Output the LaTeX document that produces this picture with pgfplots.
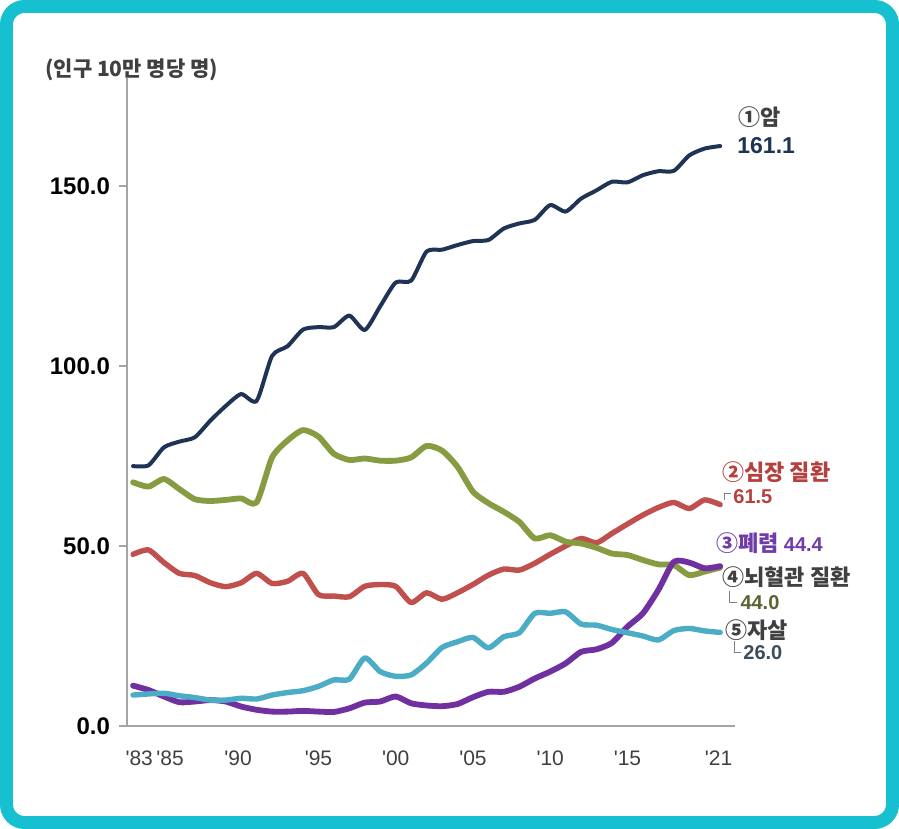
\documentclass[border=0pt]{standalone}
\usepackage{fontspec}
\usepackage{pgfplots}
\pgfplotsset{compat=1.18}
\setmainfont{Liberation Sans}
\newfontfamily\kr{Noto Sans CJK KR}
\definecolor{bordercyan}{RGB}{22,192,208}
\definecolor{axisgray}{RGB}{165,165,165}
\definecolor{cnavy}{RGB}{31,52,85}
\definecolor{cred}{RGB}{192,80,77}
\definecolor{cgreen}{RGB}{135,155,65}
\definecolor{cpurple}{RGB}{112,48,160}
\definecolor{ccyan}{RGB}{75,172,198}
\definecolor{tred}{RGB}{180,65,62}
\definecolor{tpurple}{RGB}{112,60,170}
\definecolor{tolive}{RGB}{90,100,48}
\definecolor{tslate}{RGB}{60,78,92}
\definecolor{tgray}{RGB}{64,64,64}
\begin{document}
\begin{tikzpicture}
\useasboundingbox (-63.5pt,-51.5pt) rectangle (386pt,363pt);
\fill[white] (-63.5pt,-51.5pt) rectangle (386pt,363pt);
\draw[line width=6.5pt, draw=bordercyan, rounded corners=9pt] (-60.25pt,-48.25pt) rectangle (382.75pt,359.75pt);
\begin{axis}[
  at={(0,0)}, anchor=south west, scale only axis,
  width=304pt, height=324pt,
  xmin=1982.61, xmax=2021.96, ymin=0, ymax=180,
  axis lines*=left,
  axis line style={draw=axisgray, line width=0.6pt},
  clip=false,
  ytick={0,50,100,150}, yticklabels={0.0,50.0,100.0,150.0},
  tick align=outside, major tick length=4pt,
  ytick style={draw=axisgray, line width=0.6pt},
  xtick={1983.4,1985.4,1989.8,1995,2000,2005,2010,2015,2020.9},
  xticklabels={\textquotesingle83,\textquotesingle85,\textquotesingle90,\textquotesingle95,\textquotesingle00,\textquotesingle05,\textquotesingle10,\textquotesingle15,\textquotesingle21},
  xtick style={draw=none},
  yticklabel style={font=\fontsize{12}{14}\selectfont\bfseries, text=black, xshift=-1pt},
  xticklabel style={font=\fontsize{10.5}{12}\selectfont, text=tgray, yshift=-5pt},
]
\addplot[cred, line width=2.7pt, smooth, tension=0.4, line join=round, line cap=round] coordinates {
(1983,47.7)(1984,48.9)(1985,45.4)(1986,42.4)(1987,41.8)(1988,39.8)(1989,38.7)(1990,39.8)(1991,42.4)(1992,39.6)
(1993,40.2)(1994,42.4)(1995,36.5)(1996,36.1)(1997,35.9)(1998,38.8)(1999,39.3)(2000,38.8)(2001,34.3)(2002,37.0)
(2003,35.2)(2004,37.0)(2005,39.3)(2006,41.9)(2007,43.6)(2008,43.3)(2009,45.2)(2010,47.7)(2011,50.0)(2012,52.1)
(2013,50.9)(2014,53.5)(2015,56.1)(2016,58.6)(2017,60.7)(2018,62.1)(2019,60.4)(2020,62.8)(2021,61.5)};
\addplot[cgreen, line width=2.9pt, smooth, tension=0.4, line join=round, line cap=round] coordinates {
(1983,67.7)(1984,66.5)(1985,68.6)(1986,65.8)(1987,63.0)(1988,62.5)(1989,62.8)(1990,63.2)(1991,62.1)(1992,74.6)
(1993,79.3)(1994,82.2)(1995,80.4)(1996,75.6)(1997,73.9)(1998,74.3)(1999,73.7)(2000,73.7)(2001,74.6)(2002,77.8)
(2003,76.5)(2004,72.0)(2005,65.1)(2006,61.9)(2007,59.5)(2008,56.7)(2009,52.1)(2010,53.0)(2011,51.2)(2012,50.7)
(2013,49.5)(2014,47.9)(2015,47.5)(2016,46.1)(2017,44.9)(2018,44.7)(2019,41.9)(2020,42.9)(2021,44.0)};
\addplot[cpurple, line width=2.9pt, smooth, tension=0.4, line join=round, line cap=round] coordinates {
(1983,11.2)(1984,10.0)(1985,8.2)(1986,6.6)(1987,6.8)(1988,7.2)(1989,6.8)(1990,5.4)(1991,4.5)(1992,4.0)
(1993,4.0)(1994,4.2)(1995,4.0)(1996,3.9)(1997,4.9)(1998,6.5)(1999,6.8)(2000,8.2)(2001,6.3)(2002,5.7)
(2003,5.5)(2004,6.1)(2005,8.0)(2006,9.5)(2007,9.5)(2008,10.9)(2009,13.2)(2010,15.1)(2011,17.4)(2012,20.6)
(2013,21.3)(2014,23.1)(2015,27.6)(2016,31.3)(2017,37.8)(2018,45.6)(2019,45.4)(2020,43.8)(2021,44.4)};
\addplot[ccyan, line width=2.7pt, smooth, tension=0.4, line join=round, line cap=round] coordinates {
(1983,8.6)(1984,8.9)(1985,9.1)(1986,8.4)(1987,7.9)(1988,7.2)(1989,7.2)(1990,7.7)(1991,7.5)(1992,8.6)
(1993,9.3)(1994,9.8)(1995,11.0)(1996,12.8)(1997,13.0)(1998,18.9)(1999,15.1)(2000,13.8)(2001,14.2)(2002,17.5)
(2003,21.8)(2004,23.4)(2005,24.6)(2006,21.7)(2007,24.8)(2008,25.9)(2009,31.3)(2010,31.3)(2011,31.7)(2012,28.3)
(2013,28.0)(2014,26.8)(2015,25.9)(2016,25.0)(2017,23.9)(2018,26.5)(2019,27.1)(2020,26.4)(2021,26.0)};
\addplot[cnavy, line width=2pt, smooth, tension=0.4, line join=round, line cap=round] coordinates {
(1983,72.2)(1984,72.4)(1985,77.4)(1986,79.0)(1987,80.2)(1988,84.8)(1989,88.9)(1990,92.2)(1991,90.3)(1992,102.8)
(1993,105.5)(1994,110.1)(1995,110.8)(1996,110.8)(1997,114.0)(1998,110.0)(1999,116.6)(2000,123.2)(2001,123.7)(2002,131.8)
(2003,132.3)(2004,133.6)(2005,134.7)(2006,135.0)(2007,138.2)(2008,139.6)(2009,140.6)(2010,144.7)(2011,142.9)(2012,146.5)
(2013,148.8)(2014,151.2)(2015,151.0)(2016,153.0)(2017,154.1)(2018,154.2)(2019,158.5)(2020,160.4)(2021,161.1)};
% title
\node[anchor=west, inner sep=0pt, text=tgray, font=\kr\bfseries\fontsize{10.5}{12}\selectfont] at (axis cs:1977.3,182.2) {(인구 10만 명당 명)};
% series labels
\node[anchor=west, inner sep=0pt, text=tgray, font=\kr\bfseries\fontsize{11}{13}\selectfont] at (axis cs:2022.16,169.2) {①암};
\node[anchor=west, inner sep=0pt, text=cnavy, font=\bfseries\fontsize{11.5}{13}\selectfont] at (axis cs:2022.09,161.1) {161.1};
\node[anchor=west, inner sep=0pt, text=tred, font=\kr\bfseries\fontsize{11}{13}\selectfont] at (axis cs:2021.12,70.6) {②심장 질환};
\node[anchor=west, inner sep=0pt, text=tred, font=\bfseries\fontsize{10}{12}\selectfont] at (axis cs:2021.83,63.6) {61.5};
\node[anchor=west, inner sep=0pt, text=tpurple, font=\kr\bfseries\fontsize{11}{13}\selectfont] at (axis cs:2020.73,50.8) {③폐렴 {\rmfamily\bfseries\fontsize{10}{12}\selectfont 44.4}};
\node[anchor=west, inner sep=0pt, text=tgray, font=\kr\bfseries\fontsize{11}{13}\selectfont] at (axis cs:2021.12,41.4) {④뇌혈관 질환};
\node[anchor=west, inner sep=0pt, text=tolive, font=\bfseries\fontsize{10}{12}\selectfont] at (axis cs:2022.29,34.2) {44.0};
\node[anchor=west, inner sep=0pt, text=tgray, font=\kr\bfseries\fontsize{11}{13}\selectfont] at (axis cs:2021.31,26.7) {⑤자살};
\node[anchor=west, inner sep=0pt, text=tslate, font=\bfseries\fontsize{10}{12}\selectfont] at (axis cs:2022.48,20.3) {26.0};
% leader lines
\draw[gray, line width=0.5pt] (axis cs:2021.25,62.8) -- (axis cs:2021.25,64.6) -- (axis cs:2021.7,64.6);
\draw[gray, line width=0.5pt] (axis cs:2021.6,37.4) -- (axis cs:2021.6,34.4) -- (axis cs:2022.1,34.4);
\draw[gray, line width=0.5pt] (axis cs:2021.9,23.6) -- (axis cs:2021.9,20.3) -- (axis cs:2022.35,20.3);
\end{axis}
\end{tikzpicture}
\end{document}
